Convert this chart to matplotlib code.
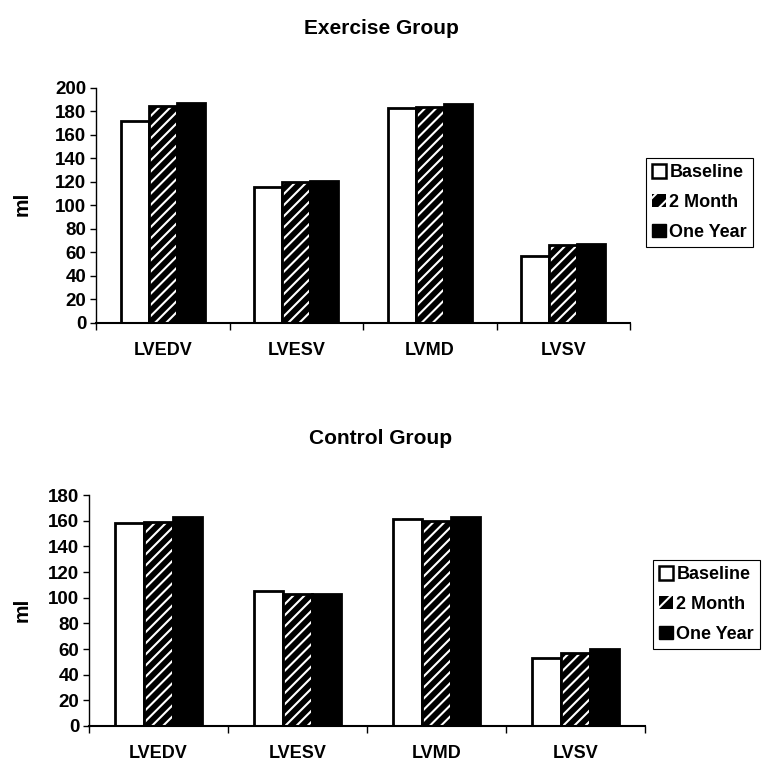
import matplotlib
matplotlib.use("Agg")
import matplotlib.pyplot as plt
from matplotlib.patches import Patch
import numpy as np

plt.rcParams['font.family'] = ['Liberation Sans', 'DejaVu Sans']
plt.rcParams['font.weight'] = 'bold'
plt.rcParams['hatch.linewidth'] = 1.5

categories = ['LVEDV', 'LVESV', 'LVMD', 'LVSV']
series_names = ['Baseline', '2 Month', 'One Year']

# Exercise group values (ml)
exercise_baseline = [172, 116, 183, 57]
exercise_2month = [185, 120, 184, 66]
exercise_1year = [187, 121, 186, 67]

# Control group values (ml)
control_baseline = [158, 105, 161, 53]
control_2month = [159, 103, 160, 57]
control_1year = [163, 103, 163, 60]

exercise_ticks = list(range(0, 201, 20))
control_ticks = list(range(0, 181, 20))


def draw_panel(ax, data, ticks):
    x = np.arange(len(categories))
    w = 0.21
    offsets = [-w, 0, w]
    # baseline: white with black outline
    ax.bar(x + offsets[0], data[0], w, facecolor='white', edgecolor='black', linewidth=2)
    # 2 month: black with white hatch, then black outline on top
    ax.bar(x + offsets[1], data[1], w, facecolor='black', edgecolor='white', hatch='///', linewidth=0)
    ax.bar(x + offsets[1], data[1], w, fill=False, edgecolor='black', linewidth=2)
    # one year: solid black
    ax.bar(x + offsets[2], data[2], w, facecolor='black', edgecolor='black', linewidth=2)

    ax.set_xlim(-0.5, len(categories) - 0.5)
    ax.set_ylim(0, ticks[-1])
    ax.set_yticks(ticks)
    ax.set_yticklabels([str(t) for t in ticks], fontsize=13.5, fontweight='bold')
    ax.set_xticks(np.arange(len(categories) + 1) - 0.5)
    ax.set_xticklabels([])
    ax.set_xticks(x, minor=True)
    ax.set_xticklabels(categories, minor=True, fontsize=13, fontweight='bold')
    ax.tick_params(axis='x', which='minor', length=0, pad=14)
    ax.tick_params(axis='x', which='major', length=5, width=1, direction='out')
    ax.tick_params(axis='y', length=4, width=1, pad=3)
    ax.spines['top'].set_visible(False)
    ax.spines['right'].set_visible(False)
    ax.spines['left'].set_linewidth(1)
    ax.spines['bottom'].set_linewidth(1.5)


fig = plt.figure(figsize=(7.62, 7.61), dpi=100)
ax1 = fig.add_axes([0.126, 0.5756, 0.701, 0.3088])
ax2 = fig.add_axes([0.1168, 0.046, 0.7297, 0.3035])

draw_panel(ax1, [exercise_baseline, exercise_2month, exercise_1year], exercise_ticks)
draw_panel(ax2, [control_baseline, control_2month, control_1year], control_ticks)

fig.text(0.5, 1 - 28 / 761, 'Exercise Group', ha='center', va='center', fontsize=15, fontweight='bold')
fig.text(0.5, 1 - 438 / 761, 'Control Group', ha='center', va='center', fontsize=15, fontweight='bold')
fig.text(22 / 762, 1 - 204 / 761, 'ml', rotation=90, ha='center', va='center', fontsize=15, fontweight='bold')
fig.text(22 / 762, 1 - 610 / 761, 'ml', rotation=90, ha='center', va='center', fontsize=15, fontweight='bold')

handles = [
    Patch(facecolor='white', edgecolor='black', linewidth=1.8),
    Patch(facecolor='black', edgecolor='white', hatch='//', linewidth=0),
    Patch(facecolor='black', edgecolor='black'),
]

for anchor in [(646 / 762, 1 - 158 / 761), (653 / 762, 1 - 560 / 761)]:
    leg = fig.legend(handles, series_names, loc='upper left', bbox_to_anchor=anchor,
                     bbox_transform=fig.transFigure, frameon=True,
                     prop={'size': 13, 'weight': 'bold'},
                     fancybox=False, edgecolor='black', framealpha=1,
                     handlelength=0.75, handleheight=0.75, handletextpad=0.2,
                     borderpad=0.35, labelspacing=0.7, borderaxespad=0)
    leg.get_frame().set_linewidth(0.8)

fig.savefig('out.png', dpi=100)
